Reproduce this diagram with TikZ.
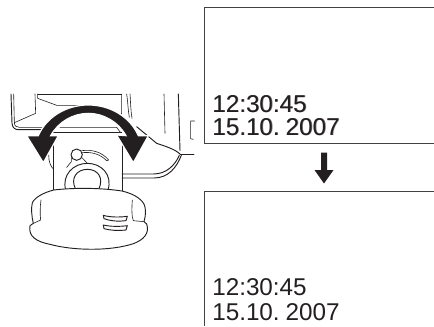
\documentclass[tikz,border=0pt]{standalone}
\usepackage{fontspec}
\setmainfont[WordSpace=0.55]{Liberation Sans}
\definecolor{ink}{HTML}{231F20}
\tikzset{
  screenline/.style={draw=ink!85,line width=0.75pt},
  fineline/.style={draw=ink,line width=0.7pt,line cap=round,line join=round},
  thinline/.style={draw=ink,line width=0.45pt,line cap=round,line join=round},
  readout/.style={anchor=base west,inner sep=0pt,font=\fontsize{18.2}{18}\selectfont,text=ink},
  soft/.style={readout,text=ink!60},
  solidink/.style={fill=ink,draw=none}
}
\begin{document}
\begin{tikzpicture}[x=0.75pt,y=-0.75pt]
\useasboundingbox (0,0) rectangle (434,326);
% screens
\coordinate (a1) at (434,7);\coordinate (a2) at (204.5,7);\coordinate (a3) at (204.5,143);\coordinate (a4) at (434,143);
\draw[screenline] (a1) -- (a2) -- (a3) -- (a4);
\coordinate (b1) at (434,191.5);\coordinate (b2) at (204.5,191.5);\coordinate (b3) at (204.5,326);
\draw[screenline] (b1) -- (b2) -- (b3);
\node[soft] (t1s) at (212.7,112.3) {12:30:45};
\node[readout] (t1) at (212,112) {12:30:45};
\node[soft] (t2s) at (212.7,135.3) {15.10. 2007};
\node[readout] (t2) at (212,135) {15.10. 2007};
\node[readout] (t3) at (212,295.5) {12:30:45};
\node[readout] (t4) at (212,320.5) {15.10. 2007};
% arrow between screens
\fill[solidink] (321,152.7) -- (327,152.7) -- (327,170) -- (333.5,170) -- (324,183.5) -- (314.5,170) -- (321,170) -- cycle;
% camera
\begin{scope}[shift={(0,80)},x=0.25pt,y=-0.25pt]
 % body, upper left
 \draw[fineline] (33,42) -- (36,130) .. controls (37,143) and (45,149) .. (55,149) -- (150,149);
 \draw[thinline] (41,42) -- (43,128) -- (107,100) -- (105,42);
 \draw[thinline] (43,128) .. controls (43,138) and (50,142) .. (58,142) -- (130,142);
 \draw[thinline] (113,42) -- (113,55) -- (170,76) -- (250,76);
 \draw[thinline] (113,42) -- (365,42);
 % upper right
 \draw[thinline] (365,42) -- (365,100) -- (350,118);
 \draw[thinline] (380,42) .. controls (384,70) and (384,90) .. (388,112);
 \draw[thinline] (390,42) .. controls (392,70) and (392,90) .. (396,115);
 \draw[thinline] (180,142) -- (350,142) -- (362,158);
 \draw[thinline] (150,156) -- (365,156);
 \draw[thinline] (492,42) -- (495,160);
 \draw[fineline] (535,42) -- (540,212);
 \draw[fineline] (410,140) -- (470,190) .. controls (500,200) and (525,208) .. (540,222);
 \draw[fineline] (540,222) -- (582,222);
 \draw[thinline] (584,123) -- (572,123) -- (572,176) -- (580,178);
 % rounded lower body
 \draw[fineline] (366,282) -- (460,282) .. controls (500,282) and (525,255) .. (538,226);
 \draw[fineline] (366,294) -- (462,294) .. controls (505,294) and (530,262) .. (544,226);
 % stem
 \draw[fineline] (161,195) -- (161,330);
 \draw[fineline] (366,190) -- (366,335);
 \draw[thinline] (146,225) .. controls (146,245) and (152,260) .. (161,268);
 % dial
 \draw[fineline] (197,330) .. controls (185,285) and (220,250) .. (262,250) .. controls (305,250) and (338,285) .. (324,330);
 \draw[fineline] (227,328) .. controls (210,295) and (230,268) .. (262,268) .. controls (295,268) and (312,295) .. (296,328);
 \draw[fineline] (230,224) circle (17);
 \draw[thinline] (214,228) -- (214,245) -- (200,262);
 \draw[thinline] (245,232) -- (262,250);
 \draw[thinline] (245,212) .. controls (275,208) and (305,215) .. (326,240) -- (320,242) .. controls (300,222) and (275,215) .. (246,218);
 % knob
 \draw[fineline,fill=white] (161,330) .. controls (130,338) and (105,352) .. (97,368)
   .. controls (93,385) and (95,410) .. (100,430) -- (90,437)
   .. controls (84,470) and (110,485) .. (150,493)
   .. controls (220,512) and (330,514) .. (400,491)
   .. controls (430,480) and (450,460) .. (440,432) -- (432,425)
   .. controls (438,405) and (438,385) .. (432,372)
   .. controls (420,352) and (395,340) .. (366,333)
   .. controls (300,323) and (220,323) .. (161,330) -- cycle;
 \draw[thinline] (123,360) .. controls (120,380) and (120,405) .. (122,420) -- (100,430);
 \draw[thinline] (397,360) .. controls (395,385) and (395,410) .. (400,422) -- (432,425);
 \draw[fineline] (310,406) .. controls (330,412) and (360,412) .. (382,409) -- (378,422) .. controls (355,425) and (330,423) .. (312,416) -- cycle;
 \draw[fineline] (310,435) .. controls (330,440) and (360,440) .. (382,437) -- (378,450) .. controls (355,453) and (330,451) .. (312,446) -- cycle;
 % double-headed curved arrow with halo
 \path[fill=ink,draw=white,line width=0.9pt,line join=miter]
   (80,167) -- (115,167) .. controls (140,110) and (200,75) .. (265,75)
   .. controls (330,75) and (390,110) .. (415,167) -- (445,167) -- (400,248) -- (350,165) -- (378,167)
   .. controls (355,125) and (310,100) .. (265,100)
   .. controls (220,100) and (175,125) .. (152,167) -- (175,167) -- (130,248) -- cycle;
\end{scope}
\end{tikzpicture}
\end{document}
